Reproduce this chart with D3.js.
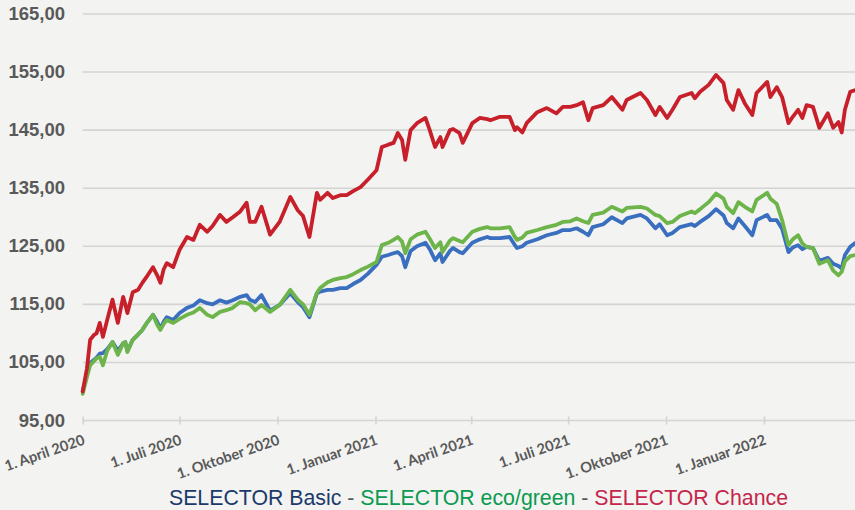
<!DOCTYPE html>
<html><head><meta charset="utf-8">
<script src="https://cdn.jsdelivr.net/npm/d3@7/dist/d3.min.js"></script>
<style>
html,body{margin:0;padding:0;background:#F3F3F1;}
svg{display:block;}
</style></head>
<body>
<svg id="chart" width="855" height="510"></svg>
<script>
const dates = ["2020-04-01","2020-04-05","2020-04-08","2020-04-12","2020-04-14","2020-04-17","2020-04-20","2020-04-24","2020-04-29",
"2020-05-04","2020-05-09","2020-05-11","2020-05-13","2020-05-18","2020-05-23","2020-05-27","2020-06-01","2020-06-06","2020-06-10",
"2020-06-13","2020-06-16","2020-06-19","2020-06-25","2020-07-01","2020-07-08","2020-07-14","2020-07-20","2020-07-27","2020-08-01",
"2020-08-08","2020-08-14","2020-08-20","2020-08-27","2020-09-02","2020-09-05","2020-09-10","2020-09-16","2020-09-24","2020-10-03",
"2020-10-13","2020-10-20","2020-10-25","2020-10-31","2020-11-07","2020-11-10","2020-11-17","2020-11-22","2020-11-29","2020-12-05",
"2020-12-11","2020-12-18","2020-12-25","2021-01-02","2021-01-07","2021-01-13","2021-01-18","2021-01-22","2021-01-26","2021-01-29",
"2021-02-03","2021-02-09","2021-02-17","2021-02-21","2021-02-26","2021-03-03","2021-03-05","2021-03-12","2021-03-15","2021-03-21",
"2021-03-24","2021-04-02","2021-04-09","2021-04-16","2021-04-19","2021-04-28","2021-05-07","2021-05-12","2021-05-14","2021-05-19",
"2021-05-23","2021-06-02","2021-06-11","2021-06-20","2021-06-26","2021-07-03","2021-07-09","2021-07-15","2021-07-20","2021-07-24",
"2021-08-03","2021-08-11","2021-08-21","2021-08-25","2021-09-07","2021-09-13","2021-09-21","2021-09-25","2021-10-02","2021-10-07",
"2021-10-14","2021-10-25","2021-10-28","2021-11-02","2021-11-10","2021-11-17","2021-11-24","2021-11-27","2021-12-03","2021-12-08",
"2021-12-14","2021-12-21","2021-12-25","2022-01-04","2022-01-07","2022-01-13","2022-01-18","2022-01-24","2022-01-28","2022-02-02",
"2022-02-06","2022-02-10","2022-02-16","2022-02-22","2022-03-02","2022-03-07","2022-03-12","2022-03-15","2022-03-18","2022-03-23","2022-03-28"];

const chance = [100,104,108.9,109.8,110,111.8,109.4,112.3,115.8,
111.8,116.3,115,113.5,117.1,117.5,118.7,120,121.4,120,
118.7,121,122.1,121.4,124.4,126.6,126.1,128.7,127.5,128.5,
130.4,129.2,130,131,132.5,129.2,129.2,131.8,127,129.2,
133.5,131.2,130.2,126.6,134.2,133,134.2,133.3,133.8,133.8,
134.5,135.2,136.5,138.1,142.1,142.5,142.8,144.5,143.3,139.9,
145,146.2,147.1,145,142.1,143.8,142.1,145,145.2,144.5,
142.8,146.2,147.1,146.9,146.7,147.3,147.3,145,145.5,144.6,
146.2,148.1,148.8,147.9,149,149,149.3,149.8,146.7,148.8,
149.3,150.7,148.5,150.2,151.4,150.2,147.6,149,147.1,148.5,
150.7,151.4,150.5,151.6,152.8,154.5,153.1,150.2,148.5,151.9,
149.6,147.6,151.4,153.3,150.7,152.4,150.7,146.2,147.3,148.5,
147.1,149.3,149,145.4,147.9,145.4,146.4,144.6,148.5,151.6,151.9];

const basic = [100,103,104.9,105.5,105.8,106.5,106.6,107.3,108.5,
107,108.3,108.5,107,108.9,109.8,110.6,112,113.2,112,
110.8,112,112.8,112.3,113.5,114.4,114.8,115.7,115.2,115,
115.7,115.3,115.7,116.3,116.6,115.8,115.4,116.6,113.9,114.9,
116.9,115.4,114.5,112.8,116.9,117.2,117.5,117.5,117.8,117.8,
118.5,119.2,120.3,121.8,123.2,123.5,123.8,124,123.3,121.4,
124.2,125,125.6,124.5,122.6,123.8,122.3,124.2,124.7,124,
123.8,125.6,126.2,126.6,126.4,126.4,126.6,125.2,124.7,125,
125.6,126.2,126.9,127.3,127.8,127.8,128.1,127.5,126.9,128.3,
128.8,130,129,129.8,130.4,129.8,128.1,128.8,126.9,127.3,
128.3,128.8,128.5,129.2,130.2,131.4,130.3,129,128.1,129.8,
128.5,126.9,129.5,130.4,129.5,129.5,128,124,124.8,125.2,
124.5,124.9,124.7,122.5,123,122,121.6,121.2,123.5,124.9,125.6];

const ecoGreen = [99.6,102.5,104.5,105.3,105.7,106,104.5,107,108.5,
106.3,108.3,108.5,106.8,108.9,109.8,110.6,112,113.2,111.5,
110.6,111.6,112.3,111.8,112.5,113.2,113.6,114.4,113.2,112.8,
113.7,114,114.4,115.4,115.2,115,114,114.9,113.7,114.9,
117.5,115.8,115,113.2,117,117.8,118.8,119.2,119.5,119.7,
120.2,120.9,121.5,122.3,125.2,125.6,126.1,126.6,125.8,123.8,
126.2,127,127.5,126.3,124.7,125.7,124,126,126.4,125.9,
125.7,127.5,128,128.3,128.1,128.1,128.3,126.6,126.1,126.5,
127.3,127.8,128.3,128.7,129.2,129.3,129.8,129.3,129,130.4,
130.8,131.8,131,131.6,131.8,131.5,130.4,130.2,129,129.2,
130.2,131,130.7,131.4,132.6,134.1,133.2,131.8,130.7,132.6,
131.8,131,133,134.2,133.2,132.3,129.5,125.2,126.2,126.9,
125.5,124.9,124.7,122,122.6,120.8,120,120.6,122.4,123.3,123.5];

const yTicks = [95,105,115,125,135,145,155,165];
const xTickDates = ["2020-04-01","2020-07-01","2020-10-01","2021-01-01","2021-04-01","2021-07-01","2021-10-01","2022-01-01"];
const xTickLabels = ["1. April 2020","1. Juli 2020","1. Oktober 2020","1. Januar 2021","1. April 2021","1. Juli 2021","1. Oktober 2021","1. Januar 2022"];
const seriesNames = ["SELECTOR Basic","SELECTOR eco/green","SELECTOR Chance"];

const parse = d3.utcParse("%Y-%m-%d");
const svg = d3.select("#chart");
const W = 855, H = 510;

const x = d3.scaleUtc()
  .domain([parse("2020-04-01"), parse("2022-01-01")])
  .range([82.7, 764]);
const y = d3.scaleLinear().domain([95,165]).range([420.5,14]);

// partially visible title (cut off at the top edge, as in the reference)
svg.append("text")
  .attr("x", 368).attr("y", -3)
  .attr("textLength", 122).attr("lengthAdjust","spacingAndGlyphs")
  .style("font-family","Liberation Sans, Arial, sans-serif")
  .style("font-size","17px").attr("fill","#595959")
  .text("(Indexiert: 1.4.2020 = 100)");

// gridlines
svg.append("g").selectAll("line").data(yTicks.filter(v=>v>95)).join("line")
  .attr("x1", 82.7).attr("x2", W)
  .attr("y1", d=>y(d)).attr("y2", d=>y(d))
  .attr("stroke","#D4D4D2").attr("stroke-width",1.6);

// y labels
svg.append("g").selectAll("text").data(yTicks).join("text")
  .attr("x", 65).attr("y", d=>y(d)+6)
  .attr("text-anchor","end")
  .style("font-family","Liberation Sans, Arial, sans-serif")
  .style("font-weight","bold").style("font-size","18.5px")
  .attr("fill","#595959")
  .text(d=>d3.format(".2f")(d).replace(".",","));

// x axis
const xAxis = d3.axisBottom(x)
  .tickValues(xTickDates.map(parse))
  .tickSize(4).tickFormat(()=> "");
const gx = svg.append("g").attr("transform",`translate(0,${y(95)})`).call(xAxis);
gx.select(".domain").attr("d", `M82.7,0H${W}`).attr("stroke","#D4D4D2").attr("stroke-width",1.6);
gx.selectAll(".tick line").attr("y1",-4).attr("y2",4).attr("stroke","#D4D4D2").attr("stroke-width",1.6);

svg.append("g").selectAll("text").data(xTickDates).join("text")
  .attr("transform", d=>`translate(${x(parse(d))+3},${y(95)+23.5}) rotate(-19)`)
  .attr("text-anchor","end")
  .style("font-family","Lato, 'Open Sans', sans-serif")
  .style("font-weight","bold").style("font-size","14.6px")
  .attr("fill","#595959")
  .text((d,i)=>xTickLabels[i]);

// lines
svg.append("clipPath").attr("id","clip").append("rect")
  .attr("x",0).attr("y",0).attr("width",W).attr("height",H);
const line = vals => d3.line()
  .x((d,i)=>x(parse(dates[i])))
  .y(d=>y(d))(vals);
const colors = ["#3A6FC0","#6DB54B","#C8202A"];
const g = svg.append("g").attr("clip-path","url(#clip)");
[basic, ecoGreen, chance].forEach((vals,i)=>{
  g.append("path").attr("d", line(vals))
    .attr("fill","none").attr("stroke",colors[i])
    .attr("stroke-width",3.8).attr("stroke-linejoin","round").attr("stroke-linecap","round");
});

// legend
const leg = svg.append("text")
  .attr("x", 478.5).attr("y", 505).attr("text-anchor","middle")
  .style("font-family","Liberation Sans, Arial, sans-serif")
  .style("font-size","21.3px");
const legColors = ["#1B3A6B","#0A9A50","#C5264B"];
seriesNames.forEach((n,i)=>{
  if(i>0) leg.append("tspan").attr("fill","#595959").text(" - ");
  leg.append("tspan").attr("fill",legColors[i]).text(n);
});
</script>
</body></html>
